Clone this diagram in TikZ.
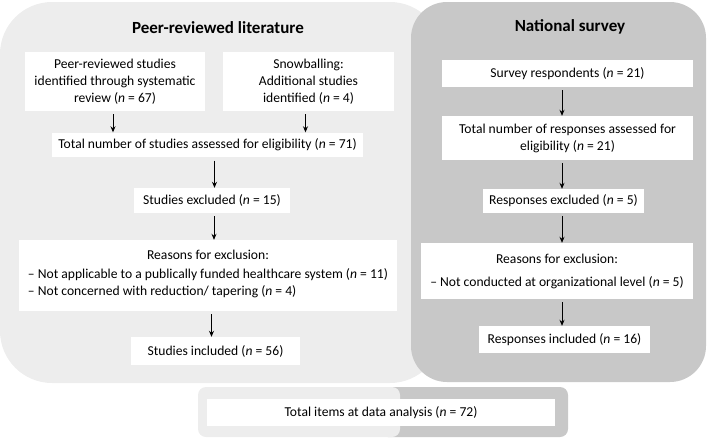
\documentclass[tikz,border=0pt]{standalone}
\usepackage{fontspec}
\setmainfont{Carlito}
\usetikzlibrary{arrows.meta}
\definecolor{lightp}{RGB}{237,237,237}
\definecolor{darkp}{RGB}{200,200,200}
\newcommand{\nn}{\textit{n}}
\begin{document}
\begin{tikzpicture}[x=1pt,y=-1pt,
  wbox/.style={fill=white, draw=none, inner sep=0pt, align=center, font=\fontsize{13.6}{17}\selectfont},
  arr/.style={draw=black, line width=0.8pt, -{Stealth[length=6pt,width=5pt]}},
  ptitle/.style={font=\fontsize{17}{20}\selectfont\bfseries}]
\useasboundingbox (0,0) rectangle (709,440);
% panels
\fill[lightp, rounded corners=52pt] (0,2) rectangle (442,383);
\fill[darkp, rounded corners=36pt] (411,2) rectangle (706,382);
\fill[darkp, rounded corners=8pt] (380,387) rectangle (568,437);
\fill[lightp, rounded corners=8pt] (198,387) rectangle (400,437);
% titles
\node[ptitle] (t1) at (218,28) {Peer-reviewed literature};
\node[ptitle] (t2) at (570,27) {National survey};
% left column
\node[wbox, minimum width=180, minimum height=59] (b1) at (115,81.5) {Peer-reviewed studies\\identified through systematic\\review (\nn{} = 67)};
\node[wbox, minimum width=171, minimum height=59] (b2) at (308.5,81.5) {Snowballing:\\Additional studies\\identified (\nn{} = 4)};
\node[wbox, minimum width=311, minimum height=24] (tot) at (207.5,144.5) {Total number of studies assessed for eligibility (\nn{} = 71)};
\node[wbox, minimum width=156, minimum height=25] (exc) at (212,200.5) {Studies excluded (\nn{} = 15)};
\node[wbox, minimum width=378, minimum height=71] (rea) at (208,275.5) {Reasons for exclusion:\\[6pt]
  {\renewcommand{\arraystretch}{1.0}\begin{tabular}{@{}l@{}}
  – Not applicable to a publically funded healthcare system (\nn{} = 11)\\
  – Not concerned with reduction/ tapering (\nn{} = 4)
  \end{tabular}}};
\node[wbox, minimum width=169, minimum height=28] (inc) at (215.5,351) {Studies included (\nn{} = 56)};
% right column
\node[wbox, minimum width=251, minimum height=27] (sr) at (567.5,73.5) {Survey respondents (\nn{} = 21)};
\node[wbox, minimum width=251, minimum height=44] (tr) at (567.5,138) {Total number of responses assessed for\\eligibility (\nn{} = 21)};
\node[wbox, minimum width=161, minimum height=24] (re) at (563.5,201) {Responses excluded (\nn{} = 5)};
\node[wbox, minimum width=272, minimum height=56] (rr) at (557,271) {Reasons for exclusion:\\[6pt]– Not conducted at organizational level (\nn{} = 5)};
\node[wbox, minimum width=171, minimum height=27] (ri) at (564.5,339.5) {Responses included (\nn{} = 16)};
% bottom
\node[wbox, minimum width=348, minimum height=27] (all) at (381,412.5) {Total items at data analysis (\nn{} = 72)};
% arrows left
\draw[arr, shorten <=3pt] ([xshift=-2pt]b1.south) -- ([xshift=-2pt]b1.south |- tot.north);
\draw[arr, shorten <=3pt] ([xshift=-3pt]b2.south) -- ([xshift=-3pt]b2.south |- tot.north);
\draw[arr, shorten <=4pt] ([xshift=7pt]tot.south) -- ([xshift=7pt]tot.south |- exc.north);
\draw[arr, shorten <=3pt] ([xshift=2pt]exc.south) -- ([xshift=2pt]exc.south |- rea.north);
\draw[arr, shorten <=3pt] ([xshift=-4pt]inc.north |- rea.south) -- ([xshift=-4pt]inc.north);
% arrows right
\draw[arr, shorten <=3pt] ([xshift=-5.5pt]sr.south) -- ([xshift=-5.5pt]sr.south |- tr.north);
\draw[arr, shorten <=3pt] ([xshift=-5.5pt]tr.south) -- ([xshift=-5.5pt]tr.south |- re.north);
\draw[arr, shorten <=3pt] ([xshift=-1.5pt]re.south) -- ([xshift=-1.5pt]re.south |- rr.north);
\draw[arr, shorten <=3pt] ([xshift=5pt]rr.south) -- ([xshift=5pt]rr.south |- ri.north);
\end{tikzpicture}
\end{document}
